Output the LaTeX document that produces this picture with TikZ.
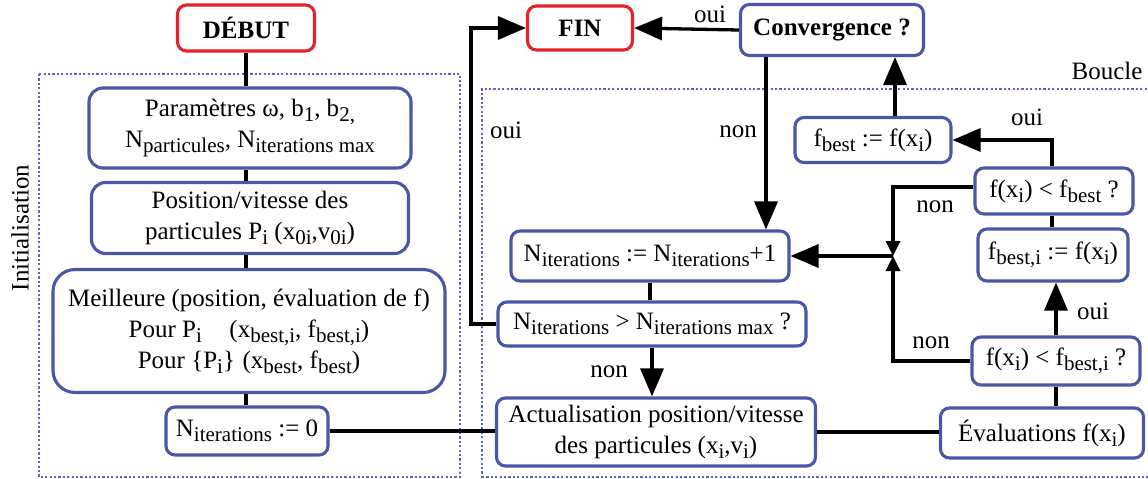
\documentclass[tikz,border=0pt]{standalone}
\usepackage{fontspec}
\setmainfont{Liberation Serif}
\usetikzlibrary{arrows.meta,calc}
\definecolor{boxblue}{RGB}{74,86,166}
\definecolor{boxred}{RGB}{232,32,42}
\definecolor{dotblue}{RGB}{95,98,200}
\newcommand\sbs[1]{\raisebox{-5pt}{\fontsize{21}{21}\selectfont #1}}
\tikzset{
  base/.style={draw, line width=3.1pt, rounded corners=9pt, fill=white, inner sep=0pt,
    align=center, font=\fontsize{25}{31}\selectfont},
  bbox/.style={base, draw=boxblue},
  rbox/.style={base, draw=boxred},
  conn/.style={line width=3.3pt, black},
  bigarrow/.style={conn, -{Triangle[length=28pt,width=23pt]}},
  smallarrow/.style={conn, -{Triangle[length=15pt,width=14pt]}},
  lbl/.style={font=\fontsize{25}{31}\selectfont, inner sep=0pt},
  dotbox/.style={dotblue, line width=1.5pt, dash pattern=on 2.2pt off 2.2pt},
}
\begin{document}
\begin{tikzpicture}[x=1pt,y=-1pt]
\useasboundingbox (0,0) rectangle (1148,479);
\clip (0,0) rectangle (1148,479);
% dotted frames
\draw[dotbox] (39,74) rectangle (460,477);
\draw[dotbox] (482,478) -- (482,89) -- (1160,89);
\draw[dotbox] (482,477) -- (1160,477);
\node[lbl, rotate=90] (init) at (20,228) {Initialisation};
\node[lbl] (boucle) at (1107,71) {Boucle};
% nodes
\node[rbox, minimum width=137pt, minimum height=46pt, font=\fontsize{25}{31}\selectfont\bfseries] (debut) at (246,28) {DÉBUT};
\node[bbox, rounded corners=14pt, minimum width=322pt, minimum height=80pt] (param) at (250,128) {Paramètres ω, b\sbs{1}, b\sbs{2,}\\N\sbs{particules}, N\sbs{iterations max}};
\node[bbox, rounded corners=14pt, minimum width=317pt, minimum height=71pt] (pos) at (250,218) {Position/vitesse des\\particules P\sbs{i} (x\sbs{0i},v\sbs{0i})};
\node[bbox, rounded corners=22pt, minimum width=392pt, minimum height=123pt] (best) at (249,331) {Meilleure (position, évaluation de f)\\Pour P\sbs{i}\hspace{1.1em}(x\sbs{best,i}, f\sbs{best,i})\\Pour \{P\sbs{i}\}\hspace{0.3em}(x\sbs{best}, f\sbs{best})};
\node[bbox, minimum width=162pt, minimum height=48pt] (n0) at (247,431) {N\sbs{iterations} := 0};
\node[rbox, minimum width=105pt, minimum height=44pt, font=\fontsize{25}{31}\selectfont\bfseries] (fin) at (580,28) {FIN};
\node[bbox, minimum width=183pt, minimum height=51pt, font=\fontsize{25}{31}\selectfont\bfseries] (conv) at (832,30) {Convergence ?};
\node[bbox, minimum width=156pt, minimum height=45pt] (fb) at (873,140) {f\sbs{best} := f(x\sbs{i})};
\node[bbox, minimum width=158pt, minimum height=46pt] (cmp1) at (1054,191) {f(x\sbs{i}) < f\sbs{best} ?};
\node[bbox, minimum width=150pt, minimum height=52pt] (fbi) at (1053,255) {f\sbs{best,i} := f(x\sbs{i})};
\node[bbox, minimum width=168pt, minimum height=48pt] (cmp2) at (1056,361) {f(x\sbs{i}) < f\sbs{best,i} ?};
\node[bbox, minimum width=203pt, minimum height=50pt] (eval) at (1042,433) {Évaluations f(x\sbs{i})};
\node[bbox, minimum width=278pt, minimum height=50pt] (inc) at (650,256) {N\sbs{iterations} := N\sbs{iterations}+1};
\node[bbox, minimum width=308pt, minimum height=44pt] (test) at (652,324) {N\sbs{iterations} > N\sbs{iterations max} ?};
\node[bbox, minimum width=319pt, minimum height=68pt] (act) at (656,432) {Actualisation position/vitesse\\des particules (x\sbs{i},v\sbs{i})};
\coordinate (j) at (893,256);
\coordinate (lt) at (471,322);
% connectors
\draw[conn] (debut.south) -- (debut.south |- param.north);
\draw[conn] (debut.south |- param.south) -- (debut.south |- pos.north);
\draw[conn] (debut.south |- pos.south) -- (debut.south |- best.north);
\draw[conn] (debut.south |- best.south) -- (debut.south |- n0.north);
\draw[conn] (n0.east) -- (n0.east -| act.west);
\draw[conn] (act.east) -- (act.east -| eval.west);
\draw[conn] (cmp2.south) -- (cmp2.south |- eval.north);
\draw[bigarrow] (cmp2.north) -- (cmp2.north |- fbi.south);
\draw[conn] ([xshift=-1pt]fbi.north) -- ([xshift=-1pt]fbi.north |- cmp1.south);
\draw[bigarrow] ([xshift=-2pt]cmp1.north) |- (fb.east);
\draw[bigarrow] ([xshift=22pt]fb.north) -- ([xshift=22pt]fb.north |- conv.south);
\draw[bigarrow] (conv.west) -- (fin.east);
\draw[bigarrow] ([xshift=-66pt]conv.south) -- ([xshift=-66pt]conv.south |- inc.north);
\draw[conn] (inc.south) -- (inc.south |- test.north);
\draw[bigarrow] (test.south) -- (test.south |- act.north);
\draw[bigarrow] (test.west) -- (test.west -| lt) |- (fin.west);
\draw[smallarrow] ([yshift=4pt]cmp1.west) -| (j);
\draw[smallarrow] (cmp2.west) -| (j);
\draw[bigarrow] (j) -- (j -| inc.east);
% labels
\node[lbl] (l1) at (710,14) {oui};
\node[lbl] (l2) at (738,132) {non};
\node[lbl] (l3) at (506,130) {oui};
\node[lbl] (l4) at (609,372) {non};
\node[lbl] (l5) at (1027,117) {oui};
\node[lbl] (l6) at (935,207) {non};
\node[lbl] (l7) at (931,343) {non};
\node[lbl] (l8) at (1093,311) {oui};
\end{tikzpicture}
\end{document}
